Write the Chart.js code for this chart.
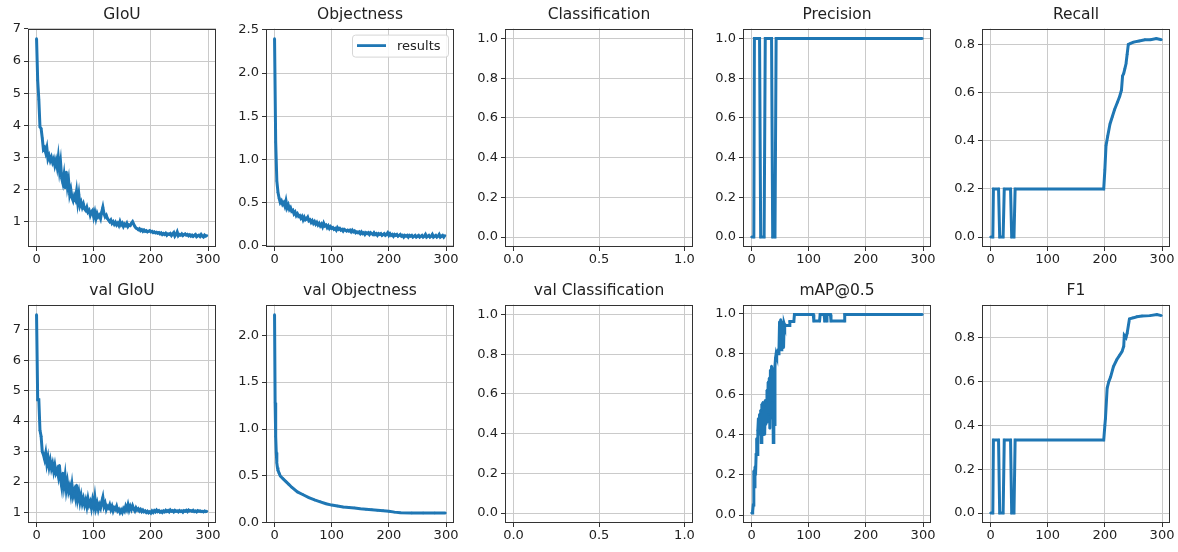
<!DOCTYPE html>
<html>
<head>
<meta charset="utf-8">
<script src="https://cdn.jsdelivr.net/npm/chart.js@4.4.1/dist/chart.umd.min.js"></script>
<style>
  body { margin: 0; background: #fff; }
  #wrap { position: relative; width: 1178px; height: 552px; overflow: hidden; }
  #wrap canvas { position: absolute; }
</style>
</head>
<body>
<div id="wrap"></div>
<script>
// loss curves are read every 2 epochs
var epochs = [];
for (var e = 0; e < 300; e += 2) epochs.push(e);

var giou = [
  6.7,5.4,4.8,3.95,3.9,3.6,3.25,3.3,3.15,3.3,
  2.95,3.05,2.9,3.0,2.85,2.95,2.75,2.9,2.7,3.0,
  2.6,2.85,2.35,2.2,2.45,2.05,2.55,2.1,2.3,1.85,
  2.0,1.75,1.65,1.8,1.7,1.95,1.6,1.85,1.5,1.6,
  1.45,1.55,1.4,1.35,1.45,1.3,1.35,1.2,1.3,1.35,
  1.15,1.3,1.1,1.25,1.15,1.2,1.1,1.3,1.45,1.25,
  1.15,1.2,1.1,1.05,1.0,1.05,0.95,1.0,0.92,0.98,
  0.9,0.95,0.88,1.0,0.9,0.95,0.85,0.92,0.88,0.95,
  0.85,0.9,0.88,0.95,1.0,0.92,0.85,0.8,0.78,0.75,
  0.78,0.72,0.75,0.7,0.74,0.7,0.72,0.68,0.7,0.72,
  0.68,0.7,0.66,0.68,0.65,0.67,0.64,0.66,0.62,0.65,
  0.6,0.63,0.6,0.64,0.58,0.62,0.6,0.63,0.57,0.62,
  0.66,0.55,0.6,0.68,0.56,0.6,0.58,0.62,0.57,0.6,
  0.62,0.58,0.6,0.56,0.59,0.55,0.58,0.54,0.57,0.6,
  0.53,0.56,0.58,0.54,0.6,0.55,0.52,0.58,0.55,0.57
];

var objectness = [
  2.4,1.2,0.75,0.62,0.55,0.5,0.52,0.48,0.5,0.46,
  0.52,0.44,0.47,0.42,0.44,0.4,0.41,0.37,0.39,0.35,
  0.37,0.34,0.35,0.32,0.34,0.3,0.33,0.3,0.31,0.33,
  0.29,0.3,0.27,0.29,0.26,0.28,0.25,0.27,0.24,0.26,
  0.23,0.25,0.22,0.26,0.23,0.24,0.21,0.23,0.2,0.22,
  0.2,0.21,0.19,0.2,0.18,0.21,0.19,0.2,0.18,0.19,
  0.17,0.19,0.18,0.17,0.18,0.17,0.18,0.16,0.18,0.16,
  0.17,0.15,0.16,0.15,0.16,0.14,0.16,0.14,0.15,0.13,
  0.15,0.14,0.15,0.13,0.15,0.14,0.13,0.15,0.13,0.14,
  0.12,0.14,0.13,0.14,0.12,0.13,0.14,0.12,0.13,0.15,
  0.12,0.14,0.12,0.13,0.11,0.13,0.12,0.13,0.11,0.12,
  0.13,0.11,0.12,0.1,0.12,0.11,0.12,0.1,0.12,0.11,
  0.12,0.1,0.11,0.12,0.1,0.11,0.12,0.1,0.11,0.12,
  0.1,0.11,0.13,0.1,0.11,0.12,0.1,0.11,0.13,0.1,
  0.11,0.12,0.1,0.11,0.13,0.1,0.11,0.12,0.1,0.12
];

var valGiou = [
  7.5,4.7,4.7,3.7,3.5,3.0,2.9,2.75,2.95,2.6,
  2.8,2.5,2.7,2.45,2.6,2.35,2.55,2.3,2.4,2.2,
  2.55,2.1,1.85,2.3,1.9,2.2,1.75,2.0,1.7,1.85,
  1.6,1.9,1.55,1.7,1.5,1.9,1.45,1.65,1.35,1.55,
  1.3,1.45,1.25,1.4,1.2,1.45,1.25,1.35,1.15,1.4,
  1.2,1.5,1.15,1.3,1.1,1.25,1.15,1.35,1.5,1.2,
  1.3,1.1,1.2,1.15,1.25,1.1,1.2,1.05,1.15,1.1,
  1.2,1.05,1.1,1.0,1.08,1.0,1.12,1.05,1.2,1.1,
  1.25,1.08,1.2,1.1,1.22,1.12,1.05,1.15,1.08,1.12,
  1.05,1.1,1.03,1.08,1.02,1.05,1.0,1.04,0.99,1.02,
  0.98,1.05,1.0,1.06,1.02,1.08,1.03,1.06,1.01,1.04,
  1.0,1.05,1.02,1.07,1.03,1.06,1.02,1.08,1.04,1.06,
  1.02,1.07,1.04,1.05,1.02,1.06,1.03,1.05,1.01,1.06,
  1.04,1.07,1.03,1.08,1.05,1.06,1.04,1.07,1.03,1.05,
  1.02,1.06,1.04,1.05,1.03,1.04,1.02,1.05,1.03,1.04
];

var valObjEpochs = [0,1,2,3,4,5,6,8,10,15,20,25,30,40,50,60,70,80,90,100,
  110,120,130,140,150,160,170,180,190,200,210,220,240,260,280,299];
var valObjectness = [2.22,1.28,0.92,0.75,0.64,0.59,0.56,0.53,0.5,0.47,
  0.44,0.41,0.38,0.33,0.3,0.27,0.245,0.225,0.205,0.19,
  0.18,0.17,0.165,0.16,0.15,0.145,0.14,0.135,0.13,0.125,
  0.115,0.108,0.105,0.106,0.105,0.106];

var precEpochs = [0,4,5,14,16,22,24,35,37,41,43,299];
var precision  = [0,0,1,1,0,0,1,1,0,0,1,1];

var recallEpochs = [0,4,5,14,16,22,24,35,37,41,43,198,
  200,202,205,209,213,217,222,226,229,231,233,235,237,239,241,245,250,260,270,280,290,299];
var recall = [0,0,0.2,0.2,0,0,0.2,0.2,0,0,0.2,0.2,
  0.28,0.38,0.42,0.47,0.5,0.53,0.56,0.585,0.61,0.67,0.68,0.7,0.72,0.76,0.8,0.805,0.81,0.815,0.82,0.82,0.825,0.82];

var f1Epochs = [0,4,5,14,16,22,24,35,37,41,43,198,
  200,201,204,207,210,215,221,226,230,233,234,237,239,243,250,256,265,279,291,299];
var f1 = [0,0,0.333,0.333,0,0,0.333,0.333,0,0,0.333,0.333,
  0.4,0.43,0.57,0.6,0.62,0.668,0.7,0.72,0.736,0.76,0.81,0.8,0.82,0.885,0.89,0.895,0.898,0.9,0.905,0.9];

var mapEpochs = [0,1,2,3,4,5,6,7,8,9,10,11,12,13,14,15,16,17,18,19,
  20,21,22,23,24,25,26,27,28,29,30,31,32,33,34,35,36,37,38,39,
  40,41,42,43,44,45,46,47,48,49,50,51,52,53,54,55,56,57,58,59,60,
  66,67,74,75,108,109,119,120,127,128,131,132,138,139,162,163,299];
var mAP = [0.01,0.01,0.02,0.05,0.22,0.14,0.24,0.2,0.3,0.38,
  0.3,0.42,0.48,0.4,0.5,0.42,0.52,0.36,0.55,0.4,
  0.56,0.45,0.54,0.4,0.57,0.45,0.56,0.62,0.46,0.66,
  0.5,0.68,0.43,0.72,0.48,0.74,0.56,0.73,0.36,0.72,
  0.45,0.74,0.78,0.8,0.79,0.81,0.82,0.8,0.82,0.96,
  0.88,0.97,0.82,0.96,0.87,0.95,0.83,0.95,0.94,0.94,0.94,
  0.94,0.96,0.96,0.995,0.995,0.963,0.963,0.995,0.995,0.963,0.963,0.995,0.995,0.963,0.963,0.995,0.995];

var titles = ['GIoU','Objectness','Classification','Precision','Recall',
  'val GIoU','val Objectness','val Classification','mAP@0.5','F1'];

var panels = [
  {x: epochs, y: giou, yStep: 1, yDec: 0},
  {x: epochs, y: objectness, yStep: 0.5, yDec: 1, legend: true},
  {x: [], y: [], yStep: 0.2, yDec: 1},
  {x: precEpochs, y: precision, yStep: 0.2, yDec: 1},
  {x: recallEpochs, y: recall, yStep: 0.2, yDec: 1},
  {x: epochs, y: valGiou, yStep: 1, yDec: 0},
  {x: valObjEpochs, y: valObjectness, yStep: 0.5, yDec: 1},
  {x: [], y: [], yStep: 0.2, yDec: 1},
  {x: mapEpochs, y: mAP, yStep: 0.2, yDec: 1},
  {x: f1Epochs, y: f1, yStep: 0.2, yDec: 1}
];

var plotLeft = [28, 266, 505, 743, 982];
var plotTop = [29, 305];
var blue = '#1f77b4';
var textCol = '#222';
var font = 'DejaVu Sans';

// matplotlib style 5% margins
function margins(lo, hi) {
  var r = hi - lo;
  return [lo - 0.05 * r, hi + 0.05 * r];
}

var framePlugin = {
  id: 'frame',
  afterDraw: function(chart) {
    var a = chart.chartArea, ctx = chart.ctx;
    ctx.save();
    ctx.strokeStyle = '#333';
    ctx.lineWidth = 1;
    ctx.strokeRect(Math.round(a.left) + 0.5, Math.round(a.top) + 0.5,
      Math.round(a.right - a.left) - 1, Math.round(a.bottom - a.top) - 1);
    ctx.restore();
  }
};

var legendPlugin = {
  id: 'innerLegend',
  afterDraw: function(chart) {
    var a = chart.chartArea, ctx = chart.ctx;
    var w = 96, h = 22;
    var x0 = a.right - 6 - w, y0 = a.top + 6;
    ctx.save();
    ctx.beginPath();
    ctx.roundRect(x0 + 0.5, y0 + 0.5, w, h, 3);
    ctx.fillStyle = 'rgba(255,255,255,0.85)';
    ctx.fill();
    ctx.strokeStyle = '#d6d6d6';
    ctx.lineWidth = 1;
    ctx.stroke();
    ctx.beginPath();
    ctx.moveTo(x0 + 5, y0 + h / 2);
    ctx.lineTo(x0 + 34, y0 + h / 2);
    ctx.strokeStyle = blue;
    ctx.lineWidth = 2.8;
    ctx.stroke();
    ctx.fillStyle = textCol;
    ctx.font = '13px "' + font + '"';
    ctx.textBaseline = 'middle';
    ctx.fillText(chart.data.datasets[0].label, x0 + 45, y0 + h / 2 + 1);
    ctx.restore();
  }
};

var wrap = document.getElementById('wrap');

panels.forEach(function(p, i) {
  var col = i % 5, row = Math.floor(i / 5);
  var cv = document.createElement('canvas');
  cv.width = 238;
  cv.height = 274;
  cv.style.left = (plotLeft[col] - 36) + 'px';
  cv.style.top = (plotTop[row] - 28) + 'px';
  wrap.appendChild(cv);

  var empty = p.y.length === 0;
  var xr = empty ? [-0.05, 1.05] : margins(0, 299);
  var yr = empty ? [-0.05, 1.05] : margins(Math.min.apply(null, p.y), Math.max.apply(null, p.y));
  var pts = p.x.map(function(xv, k) { return {x: xv, y: p.y[k]}; });

  var tickFont = {family: font, size: 13};
  var grid = {color: '#cacaca', lineWidth: 1, drawTicks: true, tickLength: 4, tickColor: '#333'};

  new Chart(cv, {
    type: 'line',
    data: {
      datasets: [{
        label: 'results',
        data: pts,
        borderColor: blue,
        backgroundColor: blue,
        borderWidth: 3,
        pointRadius: 1.2,
        pointBorderWidth: 0,
        tension: 0,
        fill: false
      }]
    },
    options: {
      responsive: false,
      animation: false,
      devicePixelRatio: 1,
      events: [],
      layout: {padding: {left: 0, right: 14, top: 0, bottom: 0}},
      plugins: {
        legend: {display: false},
        tooltip: {enabled: false},
        title: {
          display: true,
          fullSize: false,
          text: titles[i],
          color: textCol,
          font: {family: font, size: 15.5, weight: 'normal'},
          padding: {top: 5, bottom: 4}
        }
      },
      scales: {
        x: {
          type: 'linear',
          min: xr[0],
          max: xr[1],
          afterFit: function(s) { s.height = 28; },
          grid: grid,
          border: {display: false},
          ticks: {
            stepSize: empty ? 0.5 : 100,
            includeBounds: false,
            autoSkip: false,
            maxRotation: 0,
            padding: 1,
            color: textCol,
            font: tickFont,
            callback: function(v) { return empty ? Number(v).toFixed(1) : String(Math.round(v)); }
          }
        },
        y: {
          type: 'linear',
          min: yr[0],
          max: yr[1],
          afterFit: function(s) { s.width = 36; },
          grid: grid,
          border: {display: false},
          ticks: {
            stepSize: p.yStep,
            includeBounds: false,
            autoSkip: false,
            padding: 3,
            color: textCol,
            font: tickFont,
            callback: function(v) { return Number(v).toFixed(p.yDec); }
          }
        }
      }
    },
    plugins: p.legend ? [framePlugin, legendPlugin] : [framePlugin]
  });
});
</script>
</body>
</html>
